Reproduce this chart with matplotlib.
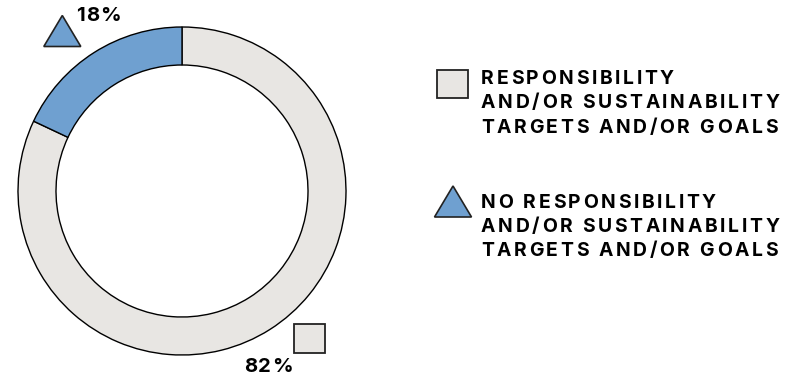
import matplotlib.pyplot as plt
from matplotlib.patches import Polygon, Rectangle
from matplotlib.font_manager import FontProperties, findfont
from matplotlib.ft2font import FT2Font

shares = [82, 18]
labels = [["RESPONSIBILITY", "AND/OR SUSTAINABILITY", "TARGETS AND/OR GOALS"],
          ["NO RESPONSIBILITY", "AND/OR SUSTAINABILITY", "TARGETS AND/OR GOALS"]]
pct_labels = ["82%", "18%"]
colors = ["#E8E6E3", "#6FA0D0"]

W, H = 795, 377
DPI = 100
fig = plt.figure(figsize=(W / DPI, H / DPI), dpi=DPI)
ax = fig.add_axes([0, 0, 1, 1])

prop = FontProperties(family="Inter", weight="bold")
ft = FT2Font(findfont(prop))


def advance(s, size):
    # glyph advances in pixels (1 data unit == 1 pixel here)
    ft.set_size(size, 72)
    total = 0.0
    for c in s:
        g = ft.load_char(ord(c))
        total += g.linearHoriAdvance / 65536
    return total * DPI / 72


def tracked_text(x, y, s, size, track, ha="left"):
    width = advance(s, size) + track * (len(s) - 1)
    if ha == "center":
        x -= width / 2
    for c in s:
        ax.text(x, H - y, c, fontsize=size, fontproperties=prop,
                ha="left", va="baseline")
        x += advance(c, size) + track


def square(cx, cy, w, h, color):
    ax.add_patch(Rectangle((cx - w / 2, H - cy - h / 2), w, h, facecolor=color,
                           edgecolor="#222222", linewidth=1.3))


def triangle(cx, cy, w, h, color):
    pts = [(cx - w / 2, H - cy - h / 2), (cx + w / 2, H - cy - h / 2),
           (cx, H - cy + h / 2)]
    ax.add_patch(Polygon(pts, closed=True, facecolor=color,
                         edgecolor="#222222", linewidth=1.2))


# donut
ax.pie(shares, colors=colors, startangle=90, counterclock=False,
       radius=164, center=(182, H - 191), frame=True,
       wedgeprops=dict(width=38, edgecolor="black", linewidth=1))
ax.set_xlim(0, W)
ax.set_ylim(0, H)
ax.set_aspect("equal")
ax.axis("off")

# percent callouts
square(309.5, 338, 31, 29, colors[0])
tracked_text(268, 371.5, pct_labels[0], 14.6, 1.0, ha="center")
triangle(62.3, 31, 37, 31, colors[1])
tracked_text(98.5, 21, pct_labels[1], 14.6, 1.0, ha="center")

# legend
square(452.5, 84, 31, 28, colors[0])
triangle(453, 201.5, 37, 31, colors[1])
baselines = [[84, 108.5, 133], [207.5, 232, 256.5]]
for i in range(2):
    for line, yb in zip(labels[i], baselines[i]):
        tracked_text(481, yb, line, 13.9, 2.65)

fig.savefig("out.png", dpi=DPI)
